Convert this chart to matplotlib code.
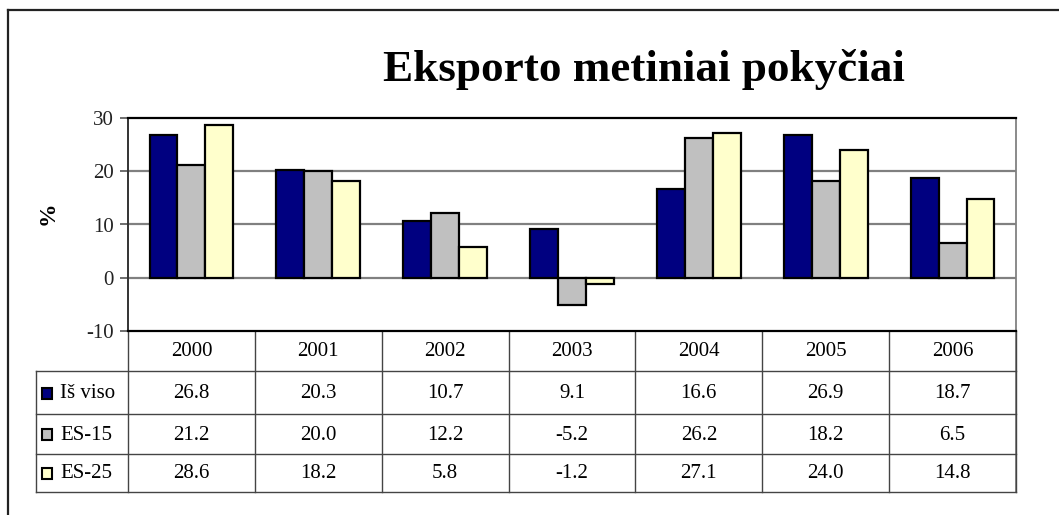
import matplotlib
matplotlib.use("Agg")
import matplotlib.pyplot as plt
import numpy as np
from matplotlib.patches import Rectangle

years = ["2000", "2001", "2002", "2003", "2004", "2005", "2006"]
series_names = ["Iš viso", "ES-15", "ES-25"]
total = [26.8, 20.3, 10.7, 9.1, 16.6, 26.9, 18.7]
es15 = [21.2, 20.0, 12.2, -5.2, 26.2, 18.2, 6.5]
es25 = [28.6, 18.2, 5.8, -1.2, 27.1, 24.0, 14.8]
colors = ["#000080", "#C0C0C0", "#FFFFCC"]
yticks = [-10, 0, 10, 20, 30]

W, H = 1059, 515
plt.rcParams['font.family'] = ['Liberation Serif', 'DejaVu Serif']
fig = plt.figure(figsize=(W / 100, H / 100), dpi=100)

def fr(x0, y0, x1, y1):
    return [x0 / W, 1 - y1 / H, (x1 - x0) / W, (y1 - y0) / H]

# overlay for frame & table (pixel coords)
ov = fig.add_axes([0, 0, 1, 1], zorder=0)
ov.set_xlim(0, W)
ov.set_ylim(H, 0)
ov.axis('off')

# outer frame
ov.plot([8, 8], [10, 515], color='#222222', lw=1.6)
ov.plot([8, W], [10, 10], color='#222222', lw=1.6)

PX0, PX1, PY0, PY1 = 128, 1016, 118, 331
ax = fig.add_axes(fr(PX0, PY0, PX1, PY1), zorder=2)
ax.patch.set_alpha(0)
data = [total, es15, es25]
n = len(years)
x = np.arange(n)
bw = 0.22
for i, (vals, c) in enumerate(zip(data, colors)):
    ax.bar(x + (i - 1) * bw, vals, width=bw, color=c, edgecolor='black', linewidth=1.6, zorder=3)
ax.set_xlim(-0.5, n - 0.5)
ax.set_ylim(-10, 30)
ax.set_yticks(yticks)
ax.set_yticklabels([str(t) for t in yticks], fontsize=15, color='#222222')
ax.set_xticks([])
for t in [0, 10, 20]:
    ax.axhline(t, color='#808080', lw=1.6, zorder=1)
ax.spines['top'].set_color('black'); ax.spines['top'].set_linewidth(1.6)
ax.spines['bottom'].set_color('black'); ax.spines['bottom'].set_linewidth(1.6)
ax.spines['left'].set_color('#333333'); ax.spines['left'].set_linewidth(1.4)
ax.spines['right'].set_visible(False)
ax.tick_params(axis='y', length=6, width=1.2, pad=4, color='#555555')
ax.set_ylabel('%', fontsize=17, fontweight='bold', labelpad=20)
ax.yaxis.label.set_y((PY1 - 213) / (PY1 - PY0))

fig.text((383 + 905) / 2 / W, 1 - 69 / H, 'Eksporto metiniai pokyčiai', fontsize=32.5,
         fontweight='bold', ha='center', va='center')

# table
TX0 = 36
colw = (PX1 - PX0) / n
rows_y = [331, 371, 414, 454, 492]
lc = '#444444'
# right border of plot+table
ov.plot([PX1, PX1], [PY0, rows_y[-1]], color='#777777', lw=1.2)
for j in range(n + 1):
    xx = PX0 + j * colw
    ov.plot([xx, xx], [rows_y[0], rows_y[-1]], color=lc, lw=1.0)
for yy in rows_y[1:]:
    ov.plot([TX0, PX1], [yy, yy], color=lc, lw=1.0)
ov.plot([TX0, TX0], [rows_y[1], rows_y[-1]], color=lc, lw=1.0)
for j, yr in enumerate(years):
    ov.text(PX0 + (j + 0.5) * colw, (rows_y[0] + rows_y[1]) / 2 + 1, yr, ha='center', va='center', fontsize=15)
for r, (name, vals, c) in enumerate(zip(series_names, data, colors)):
    yc = (rows_y[r + 1] + rows_y[r + 2]) / 2 + 1
    ov.add_patch(Rectangle((42, yc - 6), 10, 11, facecolor=c, edgecolor='black', lw=1.5))
    ov.text(60, yc, name, ha='left', va='center', fontsize=15)
    for j, v in enumerate(vals):
        ov.text(PX0 + (j + 0.5) * colw, yc, f"{v:.1f}", ha='center', va='center', fontsize=15)

fig.savefig('out.png', dpi=100)
